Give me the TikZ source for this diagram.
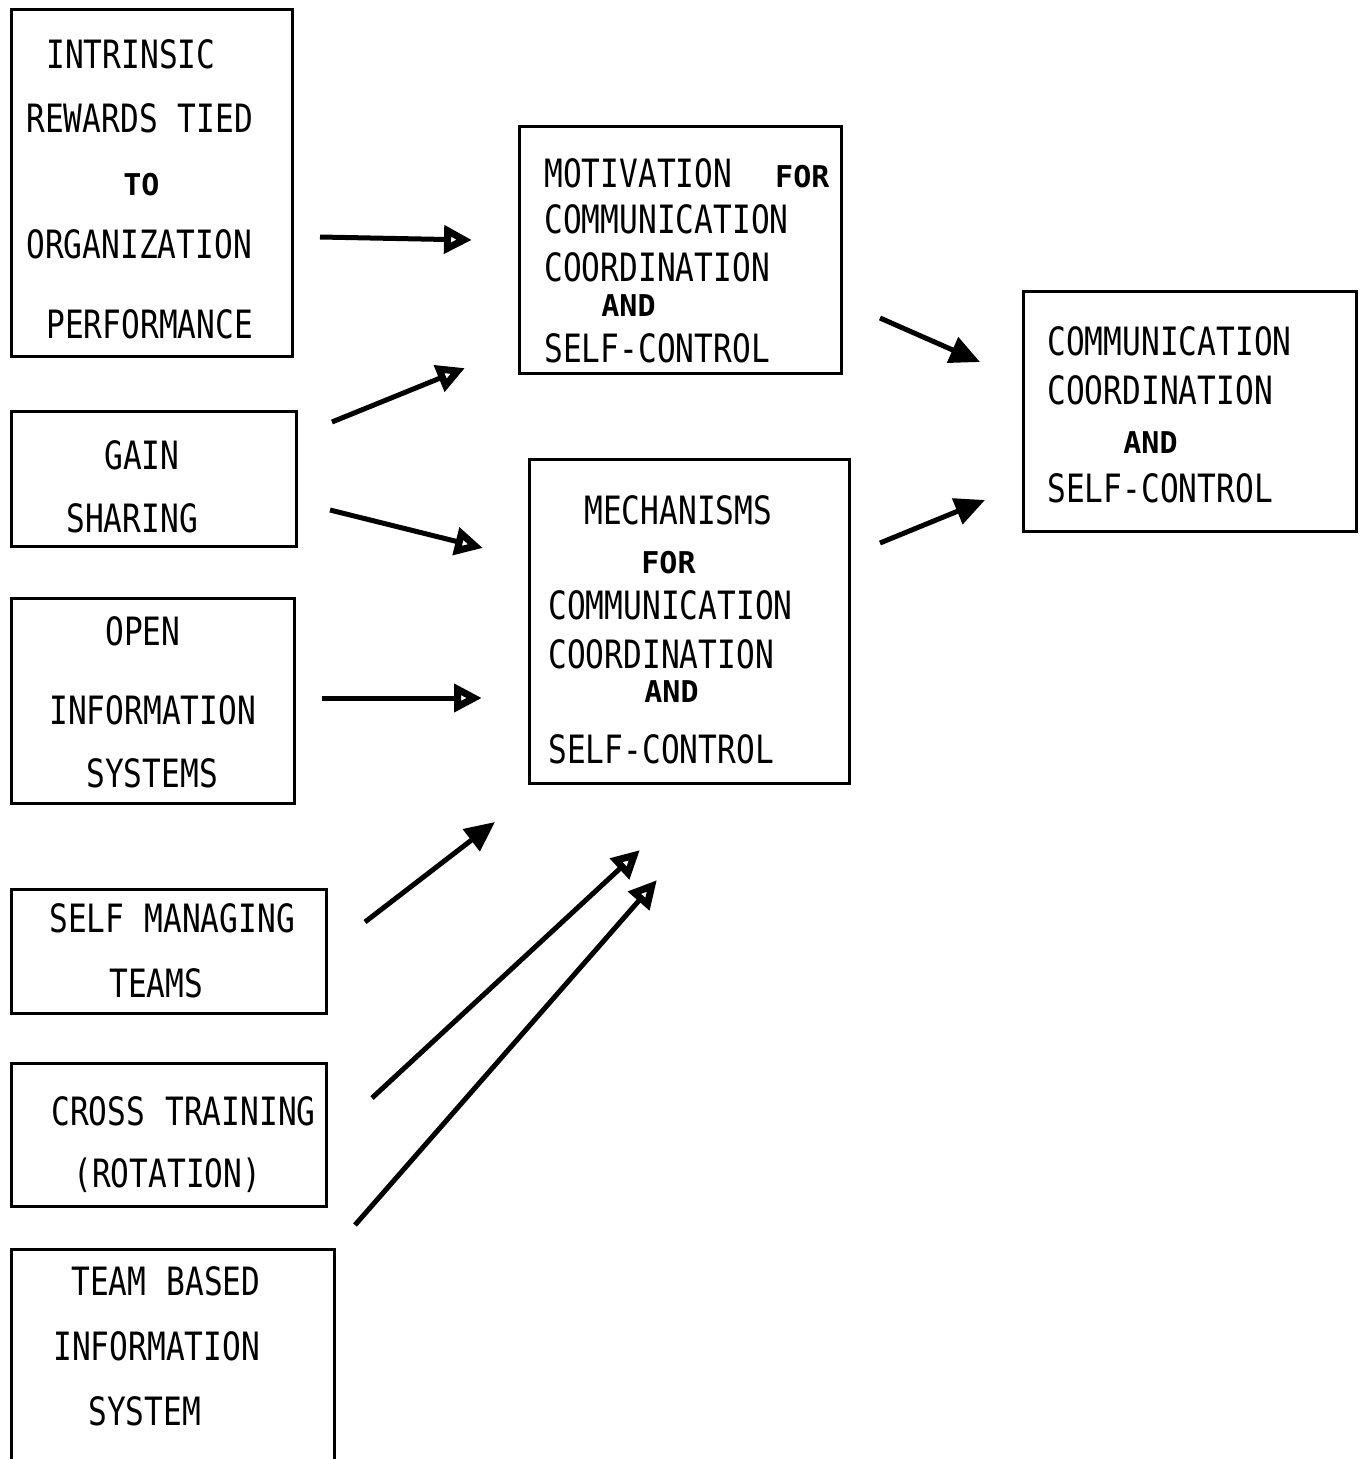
\documentclass[tikz,border=0pt]{standalone}
\usepackage{fontspec}
\usetikzlibrary{arrows.meta}
\newfontfamily\tw[FakeStretch=0.8]{DejaVu Sans Mono}
\newfontfamily\twsmall{DejaVu Sans Mono}
\newcommand{\smw}[1]{{\twsmall\bfseries\fontsize{30}{30}\selectfont #1}}
\newcommand{\tstr}[1]{\rule{0pt}{#1}}
\newcommand{\bstr}[1]{\rule[-#1]{0pt}{#1}}
\newcommand{\wsp}{\hspace{20pt}}
\begin{document}
\begin{tikzpicture}[x=1pt,y=-1pt,
box/.style={draw,line width=2.8pt,inner sep=0pt,anchor=north west,align=left,text width=#1,font=\tw\fontsize{39}{48}\selectfont},
arr/.style={line width=5pt,-{Triangle[open,length=28pt,width=27pt,line width=7pt]}},
arrf/.style={line width=5pt,-{Triangle[length=30pt,width=27pt]}}]
\useasboundingbox (0,0) rectangle (1361,1459);
\clip (0,0) rectangle (1361,1459);
% left column: practices
\node (rewards) [box=281pt] at (10,8)
  {\tstr{59pt}\hspace*{35pt}INTRINSIC\\[16pt]\hspace*{15pt}REWARDS\wsp TIED\\[15pt]\hspace*{112pt}\smw{TO}\\[15pt]\hspace*{15pt}ORGANIZATION\\[32pt]\hspace*{35pt}PERFORMANCE\bstr{18pt}};
\node (gain) [box=285pt] at (10,410)
  {\tstr{58pt}\hspace*{93pt}GAIN\\[15pt]\hspace*{55pt}SHARING\bstr{14pt}};
\node (openinfo) [box=283pt] at (10,597)
  {\tstr{47pt}\hspace*{94pt}OPEN\\[31pt]\hspace*{38pt}INFORMATION\\[15pt]\hspace*{75pt}SYSTEMS\bstr{16pt}};
\node (teams) [box=315pt] at (10,888)
  {\tstr{43pt}\hspace*{38pt}SELF\wsp MANAGING\\[17pt]\hspace*{98pt}TEAMS\bstr{16pt}};
\node (cross) [box=315pt] at (10,1062)
  {\tstr{62pt}\hspace*{40pt}CROSS\wsp TRAINING\\[14pt]\hspace*{62pt}(ROTATION)\bstr{19pt}};
\node (teaminfo) [box=323pt] at (10,1248)
  {\tstr{46pt}\hspace*{60pt}TEAM\wsp BASED\\[17pt]\hspace*{42pt}INFORMATION\\[17pt]\hspace*{77pt}SYSTEM\bstr{56pt}};
% middle column
\node (motivation) [box=322pt] at (518,125)
  {\tstr{61pt}\hspace*{25pt}MOTIVATION\hspace*{43pt}\smw{FOR}\\[-2pt]\hspace*{25pt}COMMUNICATION\\[0pt]\hspace*{25pt}COORDINATION\\[-13pt]\hspace*{82pt}\smw{AND}\\[-2pt]\hspace*{25pt}SELF-CONTROL\bstr{11pt}};
\node (mechanisms) [box=320pt] at (528,458)
  {\tstr{65pt}\hspace*{55pt}MECHANISMS\\[1pt]\hspace*{112pt}\smw{FOR}\\[-2pt]\hspace*{19pt}COMMUNICATION\\[1pt]\hspace*{19pt}COORDINATION\\[-14pt]\hspace*{115pt}\smw{AND}\\[13pt]\hspace*{19pt}SELF-CONTROL\bstr{20pt}};
% right column
\node (outcome) [box=333pt] at (1022,290)
  {\tstr{64pt}\hspace*{24pt}COMMUNICATION\\[1pt]\hspace*{24pt}COORDINATION\\[1pt]\hspace*{100pt}\smw{AND}\\[1pt]\hspace*{24pt}SELF-CONTROL\bstr{29pt}};
% arrow end points
\coordinate (rew-out) at (320,237);   \coordinate (mot-in1) at (472,240);
\coordinate (gain-out1) at (332,422); \coordinate (mot-in2) at (465,368);
\coordinate (gain-out2) at (330,510); \coordinate (mech-in1) at (483,548);
\coordinate (open-out) at (322,698);  \coordinate (mech-in2) at (482,698);
\coordinate (teams-out) at (365,922); \coordinate (mech-in3) at (495,822);
\coordinate (cross-out) at (372,1098);\coordinate (mech-in4) at (640,850);
\coordinate (tinfo-out) at (355,1225);\coordinate (mech-in5) at (657,880);
\coordinate (mot-out) at (880,318);   \coordinate (out-in1) at (980,362);
\coordinate (mech-out) at (880,543);  \coordinate (out-in2) at (985,500);
\draw[arr] (rew-out) -- (mot-in1);
\draw[arr] (gain-out1) -- (mot-in2);
\draw[arr] (gain-out2) -- (mech-in1);
\draw[arr] (open-out) -- (mech-in2);
\draw[arrf] (teams-out) -- (mech-in3);
\draw[arr] (cross-out) -- (mech-in4);
\draw[arr] (tinfo-out) -- (mech-in5);
\draw[arrf] (mot-out) -- (out-in1);
\draw[arrf] (mech-out) -- (out-in2);
\end{tikzpicture}
\end{document}
